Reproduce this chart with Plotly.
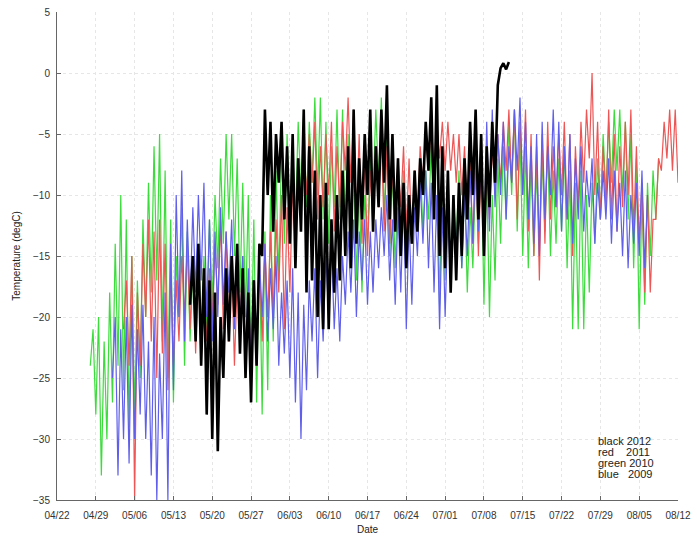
import pandas as pd
import plotly.graph_objects as go

# ---- data (daily highs / lows), day index from 04/22 ----
base_date = "2012-04-22"

green_start = 6
green_hi = [-21,-20,-22,-18,-14,-10,-12,-15,-17,-12,-9,-6,-5,-8,-12,-15,-11,-13,-16,-14,-15,-12,-10,-7,-5,-5,-7,-9,-10,-12,-14,-13,-10,-8,-6,-5,-6,-4,-3,-4,-2,-2,-4,-6,-3,-3,-5,-7,-9,-10,-7,-3,-2,-5,-8,-9,-8,-10,-9,-7,-8,-6,-5,-7,-9,-10,-8,-9,-11,-8,-6,-8,-10,-7,-6,-4,-3,-5,-6,-7,-8,-7,-6,-8,-7,-6,-8,-9,-8,-10,-9,-7,-5,-4,-3,-3,-4,-5,-7,-10,-9,-8,-7]
green_lo = [-24,-28,-33,-30,-27,-24,-26,-29,-28,-25,-20,-18,-17,-22,-25,-27,-20,-24,-22,-20,-22,-21,-19,-16,-14,-12,-15,-18,-20,-24,-27,-28,-26,-22,-17,-14,-13,-12,-10,-11,-9,-10,-12,-14,-11,-12,-13,-16,-17,-18,-14,-10,-9,-12,-15,-16,-14,-16,-14,-12,-13,-12,-11,-19,-17,-16,-14,-16,-18,-16,-14,-19,-20,-17,-14,-12,-10,-13,-15,-16,-15,-14,-13,-15,-14,-13,-16,-21,-21,-21,-18,-14,-12,-10,-9,-8,-10,-12,-16,-21,-19,-15,-12]

red_start = 12
red_hi = [-17,-15,-18,-14,-12,-13,-12,-14,-16,-17,-15,-14,-15,-16,-18,-16,-14,-12,-13,-15,-17,-15,-18,-17,-15,-14,-13,-12,-10,-11,-9,-7,-6,-5,-4,-6,-5,-4,-6,-4,-2,-3,-5,-7,-8,-6,-5,-6,-8,-7,-6,-7,-8,-6,-5,-4,-4,-4,-4,-5,-5,-6,-7,-6,-7,-8,-6,-5,-4,-3,-3,-4,-3,-5,-6,-5,-4,-6,-5,-4,-5,-6,-4,-3,0,-4,-6,-3,-5,-6,-4,-3,-6,-9,-10,-12,-7,-4,-3,-3,-5]
red_lo = [-21,-24,-35,-24,-20,-22,-25,-23,-26,-24,-22,-20,-21,-23,-24,-22,-20,-19,-21,-22,-24,-21,-25,-23,-24,-22,-20,-20,-18,-21,-18,-15,-12,-10,-9,-12,-11,-10,-13,-11,-8,-9,-12,-14,-15,-13,-11,-13,-14,-12,-11,-13,-14,-12,-9,-8,-8,-7,-8,-8,-9,-10,-12,-14,-15,-14,-12,-10,-9,-8,-9,-12,-10,-13,-15,-17,-14,-12,-11,-10,-12,-15,-11,-9,-7,-10,-12,-11,-12,-13,-11,-10,-13,-14,-18,-18,-12,-8,-7,-8,-9]

blue_start = 10
blue_hi = [-20,-21,-20,-19,-21,-19,-22,-20,-23,-18,-14,-10,-8,-12,-11,-10,-9,-12,-13,-11,-13,-12,-14,-15,-16,-17,-15,-14,-16,-15,-18,-17,-16,-18,-19,-17,-16,-17,-15,-14,-16,-15,-13,-12,-13,-12,-13,-12,-11,-10,-12,-11,-10,-12,-11,-9,-8,-9,-10,-11,-12,-10,-9,-10,-8,-7,-6,-4,-3,-5,-4,-6,-3,-2,-4,-6,-5,-4,-6,-3,-4,-6,-5,-7,-6,-8,-7,-9,-8,-7,-8,-9,-8,-10,-9,-8,-10]
blue_lo = [-25,-33,-30,-32,-30,-28,-30,-33,-35,-30,-35,-26,-20,-22,-19,-18,-17,-20,-22,-20,-19,-18,-21,-22,-24,-25,-22,-20,-22,-21,-24,-23,-25,-27,-30,-26,-22,-25,-22,-20,-21,-22,-19,-18,-20,-17,-19,-18,-16,-15,-17,-19,-18,-21,-19,-15,-14,-16,-18,-21,-20,-17,-15,-16,-15,-14,-13,-15,-13,-11,-10,-12,-9,-8,-10,-12,-14,-15,-12,-10,-11,-13,-12,-14,-12,-13,-11,-14,-12,-12,-14,-13,-15,-16,-14,-15,-16]

black_start = 24
black_hi = [-15,-14,-16,-17,-18,-20,-16,-15,-14,-16,-18,-17,-14,-3,-4,-5,-4,-6,-5,-7,-3,-6,-8,-10,-9,-12,-10,-8,-6,-3,-7,-5,-3,-6,-3,-1,-5,-7,-9,-10,-8,-7,-4,-2,-1,-6,-8,-10,-9,-7,-4,-3,-5,-6,-4,-1,0.8,0.9]
black_lo = [-19,-22,-24,-28,-30,-31,-25,-22,-20,-23,-25,-27,-24,-15,-10,-13,-9,-12,-14,-16,-13,-18,-17,-20,-21,-21,-18,-17,-15,-16,-14,-12,-10,-13,-11,-9,-12,-13,-15,-16,-14,-13,-10,-8,-12,-15,-16,-18,-17,-15,-12,-10,-12,-15,-11,-9,0.4,0.3]

legend_lines = ["black 2012", "red\u00a0\u00a0\u00a0 2011", "green 2010", "blue\u00a0\u00a0 2009"]

x_ticks_start = "2012-04-22"
x_end = "2012-08-12"


def build(start, hi, lo):
    b = pd.Timestamp(base_date)
    xs, ys = [], []
    for i, (h, l) in enumerate(zip(hi, lo)):
        xs.append(b + pd.Timedelta(days=start + i))
        ys.append(l)
        xs.append(b + pd.Timedelta(days=start + i, hours=12))
        ys.append(h)
    return xs, ys


fig = go.Figure()
series = [
    ("2010", green_start, green_hi, green_lo, "rgb(60,220,60)", 1.2),
    ("2011", red_start, red_hi, red_lo, "rgb(238,85,85)", 1.2),
    ("2009", blue_start, blue_hi, blue_lo, "rgb(95,95,235)", 1.2),
    ("2012", black_start, black_hi, black_lo, "black", 2.6),
]
for name, s, hi, lo, col, w in series:
    xs, ys = build(s, hi, lo)
    fig.add_trace(go.Scatter(x=xs, y=ys, mode="lines", name=name,
                             line=dict(color=col, width=w), showlegend=False))

for i, t in enumerate(legend_lines):
    fig.add_annotation(text=t, xref="paper", yref="paper", x=0.868, y=0.121 - i * 0.0226,
                       xanchor="left", yanchor="middle", showarrow=False,
                       font=dict(size=11, color="#222", family="Liberation Sans, Arial"))

axis_common = dict(showgrid=True, gridcolor="#e6e6e6", griddash="dot", gridwidth=1,
                   showline=True, linecolor="#666", linewidth=1, ticks="inside",
                   ticklen=4, tickcolor="#666", zeroline=False, automargin=False,
                   tickfont=dict(size=10, color="#333", family="Liberation Sans, Arial"))

fig.update_layout(
    width=697, height=542,
    margin=dict(l=57, r=19, t=12, b=42),
    paper_bgcolor="white", plot_bgcolor="white",
    font=dict(family="Liberation Sans, Arial", size=10, color="#222"),
    xaxis=dict(range=[x_ticks_start, x_end], tick0=x_ticks_start, dtick=7 * 86400000,
               tickformat="%m/%d", ticklabelstandoff=6,
               title=dict(text="Date", font=dict(size=10), standoff=5),
               **axis_common),
    yaxis=dict(range=[-35, 5], dtick=5, ticklabelstandoff=4,
               title=dict(text="Temperature (degC)", font=dict(size=10), standoff=10),
               **axis_common),
)

fig.write_html("out.html", config={"displayModeBar": False},
               post_script="document.body.style.margin='0px';")
